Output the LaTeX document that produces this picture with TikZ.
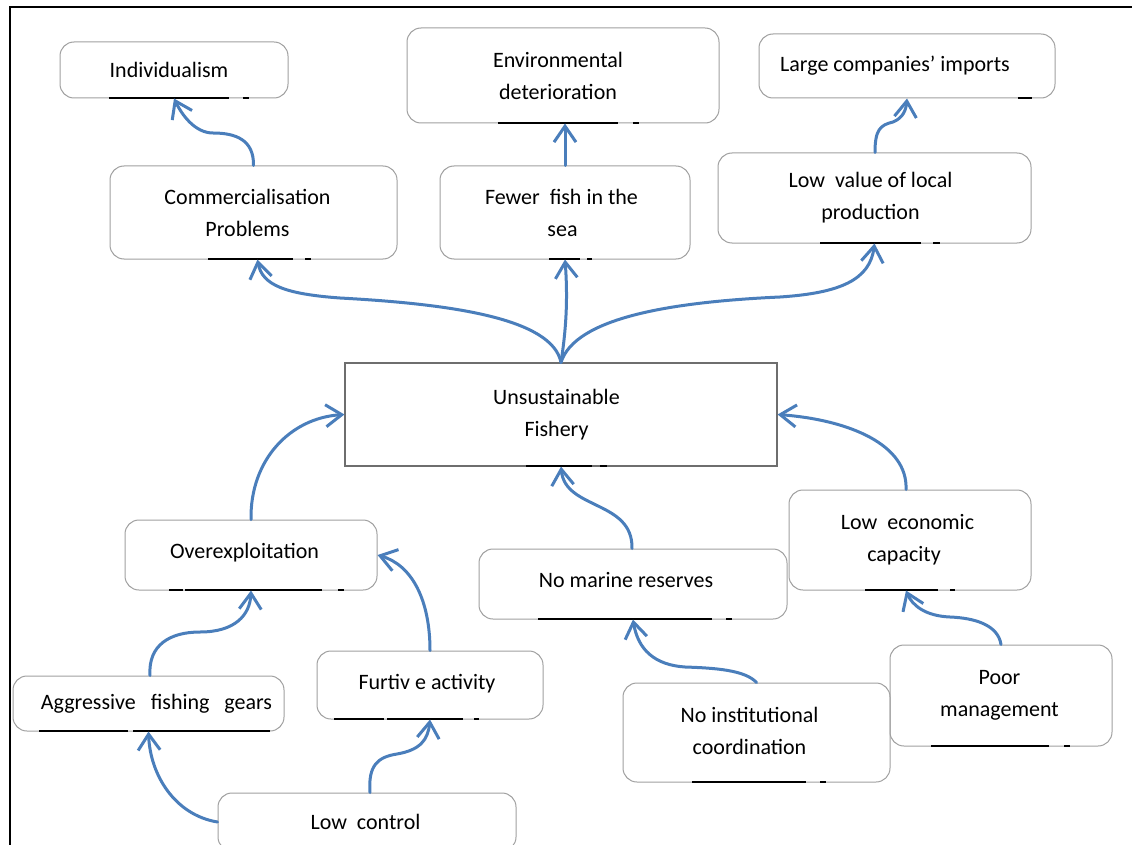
\documentclass[tikz,border=0pt]{standalone}
\usepackage{fontspec}
\setmainfont{Carlito}
\usetikzlibrary{arrows.meta}
\definecolor{arrowblue}{RGB}{74,126,187}
\definecolor{boxgray}{RGB}{160,160,160}
\definecolor{darkgray}{RGB}{110,110,110}
\begin{document}
\begin{tikzpicture}[x=1pt,y=-1pt,
  box/.style={draw=boxgray, line width=1pt, rounded corners=14pt, align=center,
    font=\fontsize{22}{32}\selectfont, inner sep=0pt},
  mainbox/.style={draw=darkgray, line width=1.2pt, align=center,
    font=\fontsize{22}{32}\selectfont, inner sep=0pt},
  link/.style={draw=arrowblue, line width=3pt, line cap=round,
    -{Straight Barb[length=16pt,width=22pt,line width=3pt]}},
  artifact/.style={line width=2pt, black},
  frame/.style={line width=2.5pt, black}]
\useasboundingbox (0,0) rectangle (1132,845);
\clip (0,0) rectangle (1132,845);
\fill[white] (0,0) rectangle (1132,845);
\draw[frame] (10,850) -- (10,7) -- (1140,7);

% boxes
\node[box, minimum width=228pt, minimum height=56pt] (ind) at (174,70) {Individualism\kern10pt};
\node[box, minimum width=312pt, minimum height=95pt] (env) at (563,75.5) {Environmental\kern10pt\\deterioration\kern10pt};
\node[box, minimum width=296pt, minimum height=64pt] (lci) at (907,66) {Large companies’ imports\kern24pt};
\node[box, minimum width=287pt, minimum height=93pt] (com) at (253.5,212.5) {Commercialisation\kern12pt\\Problems\kern12pt};
\node[box, minimum width=250pt, minimum height=93pt] (few) at (565,212.5) {Fewer\ \ fish in the\kern7pt\\sea\kern5pt};
\node[box, minimum width=313pt, minimum height=90pt] (lvl) at (874.5,198) {Low\ \ value of local\kern8pt\\production\kern8pt};
\node[mainbox, minimum width=432pt, minimum height=103pt] (uns) at (561,414.5) {Unsustainable\kern9pt\\Fishery\kern9pt};
\node[box, minimum width=252pt, minimum height=70pt] (ovx) at (251,555) {\raisebox{8pt}{Overexploitation}\kern13pt};
\node[box, minimum width=308pt, minimum height=70pt] (nmr) at (633,584) {\raisebox{9pt}{No marine reserves}\kern14pt};
\node[box, minimum width=242pt, minimum height=100pt] (lec) at (910,540) {Low\ \ economic\kern5pt\\capacity\kern12pt};
\node[box, minimum width=271pt, minimum height=55pt] (agg) at (148.5,703.5) {\kern16pt Aggressive\ \ \ fishing\ \ \ gears};
\node[box, minimum width=226pt, minimum height=68pt] (fur) at (430,685) {\raisebox{6pt}{Furtiv e activity}\kern6pt};
\node[box, minimum width=267pt, minimum height=99pt] (nic) at (756.5,732.5) {\raisebox{3pt}{\begin{tabular}{@{}c@{}}No institutional\\coordination\end{tabular}}\kern14pt};
\node[box, minimum width=222pt, minimum height=101pt] (pm) at (1001,695.5) {Poor\kern3pt\\management\kern3pt};
\node[box, minimum width=298pt, minimum height=58pt] (lc) at (367,822) {Low\ \ control\kern3pt};

% underline artifacts
\draw[artifact] (109,98) -- (229,98) (243,98) -- (249,98);
\draw[artifact] (208,259) -- (293,259) (305,259) -- (311,259);
\draw[artifact] (498,123) -- (618,123) (633,123) -- (639,123);
\draw[artifact] (549,259) -- (580,259) (587,259) -- (592,259);
\draw[artifact] (1018,98) -- (1032,98);
\draw[artifact] (820,243) -- (921,243) (933,243) -- (940,243);
\draw[artifact] (526,466) -- (592,466) (600,466) -- (607,466);
\draw[artifact] (169,590) -- (183,590) (185,590) -- (322,590) (338,590) -- (344,590);
\draw[artifact] (538,619) -- (712,619) (726,619) -- (732,619);
\draw[artifact] (865,590) -- (938,590) (950,590) -- (955,590);
\draw[artifact] (39,731) -- (128,731) (133,731) -- (270,731);
\draw[artifact] (334,719) -- (384,719) (387,719) -- (463,719) (474,719) -- (479,719);
\draw[artifact] (692,782) -- (806,782) (820,782) -- (826,782);
\draw[artifact] (931,746) -- (1049,746) (1064,746) -- (1070,746);

% connectors
\draw[link] (com.north) .. controls (254,140) and (236,133) .. (213,133)
   .. controls (195,133) and (182,115) .. (ind.south);
\draw[link] (few.north) -- ([xshift=2pt]env.south);
\draw[link] ([xshift=0.5pt]lvl.north) .. controls (875,130) and (880,125) .. (893,122)
   .. controls (903,118) and (906,110) .. (lci.south);
\draw[link] (uns.north) .. controls (552,318) and (450,304) .. (340,298)
   .. controls (285,294) and (262,285) .. ([xshift=4pt]com.south);
\draw[link] (uns.north) .. controls (566,330) and (568,300) .. (few.south);
\draw[link] (uns.north) .. controls (575,318) and (670,302) .. (780,297)
   .. controls (840,293) and (870,280) .. (lvl.south);
\draw[link] (ovx.north) .. controls (250,460) and (290,418) .. (uns.west);
\draw[link] (fur.north) .. controls (430,600) and (412,565) .. (ovx.east);
\draw[link] ([xshift=1.5pt]agg.north) .. controls (148,645) and (170,632) .. (200,632)
   .. controls (235,632) and (250,615) .. (ovx.south);
\draw[link] (lc.west) .. controls (175,815) and (150,775) .. (agg.south);
\draw[link] ([xshift=3pt]lc.north) .. controls (368,765) and (378,757) .. (397,754)
   .. controls (420,750) and (428,740) .. (fur.south);
\draw[link] ([xshift=-1pt]nmr.north) .. controls (633,500) and (565,510) .. (uns.south);
\draw[link] ([xshift=-4pt]lec.north) .. controls (908,445) and (850,420) .. (uns.east);
\draw[link] (nic.north) .. controls (745,670) and (715,668) .. (685,667)
   .. controls (655,665) and (638,650) .. (nmr.south);
\draw[link] (pm.north) .. controls (998,625) and (975,618) .. (950,617)
   .. controls (925,616) and (912,605) .. ([xshift=-4pt]lec.south);
\end{tikzpicture}
\end{document}
